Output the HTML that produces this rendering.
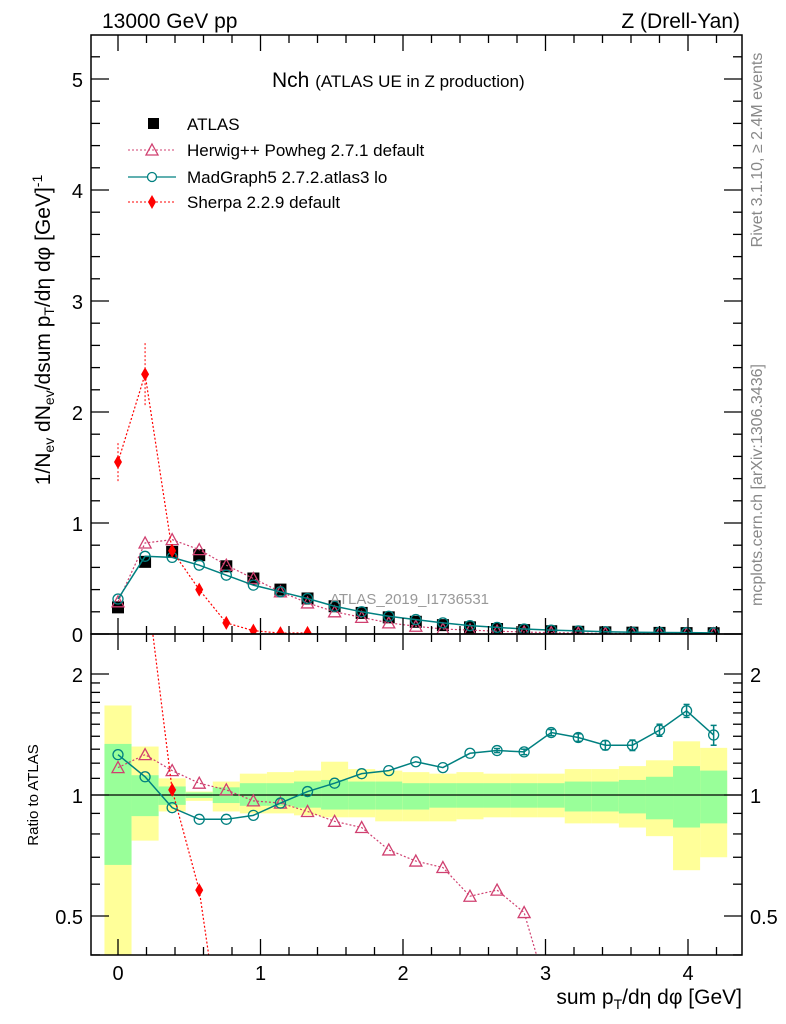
<!DOCTYPE html>
<html><head><meta charset="utf-8"><style>
html,body{margin:0;padding:0;background:#fff;width:786px;height:1024px;overflow:hidden}
svg{display:block;font-family:"Liberation Sans",sans-serif}
</style></head><body>
<svg id="c" width="786" height="1024" viewBox="0 0 786 1024" xmlns="http://www.w3.org/2000/svg">
<g id="bands"></g>
<g id="marks"></g>
<g id="axes"></g>
<text x="102" y="28" font-size="21">13000 GeV pp</text>
<text x="740" y="28" font-size="21" text-anchor="end">Z (Drell-Yan)</text>
<text x="272" y="87" font-size="21">Nch <tspan font-size="17">(ATLAS UE in Z production)</tspan></text>
<g font-size="17">
<rect x="148" y="118" width="11" height="11" fill="#000"/>
<text x="187" y="130">ATLAS</text>
<line x1="128" y1="150" x2="176" y2="150" stroke="#d04070" stroke-dasharray="2,2"/>
<path d="M152,144 L158,155 L146,155 Z" fill="none" stroke="#d04070" stroke-width="1.3"/>
<text x="187" y="156">Herwig++ Powheg 2.7.1 default</text>
<line x1="128" y1="177" x2="176" y2="177" stroke="#008080" stroke-width="1.3"/>
<circle cx="152" cy="177" r="4.5" fill="#fff" stroke="#008080" stroke-width="1.3"/>
<text x="187" y="183">MadGraph5 2.7.2.atlas3 lo</text>
<line x1="128" y1="202" x2="176" y2="202" stroke="#f00" stroke-dasharray="2,2"/>
<path d="M152,195 L156,202 L152,209 L148,202 Z" fill="#f00"/>
<text x="187" y="208">Sherpa 2.2.9 default</text>
</g>
<text x="330" y="604" font-size="15" fill="#999">ATLAS_2019_I1736531</text>
<text transform="translate(50,330) rotate(-90)" font-size="21" text-anchor="middle">1/N<tspan font-size="14" dy="4">ev</tspan><tspan dy="-4"> dN</tspan><tspan font-size="14" dy="4">ev</tspan><tspan dy="-4">/dsum p</tspan><tspan font-size="14" dy="4">T</tspan><tspan dy="-4">/dη dφ  [GeV]</tspan><tspan font-size="14" dy="-8">-1</tspan></text>
<text transform="translate(38,795) rotate(-90)" font-size="15" text-anchor="middle">Ratio to ATLAS</text>
<text x="742" y="1004" font-size="21" text-anchor="end">sum p<tspan font-size="14" dy="5">T</tspan><tspan dy="-5">/dη dφ [GeV]</tspan></text>
<text transform="translate(762,150) rotate(-90)" font-size="16" fill="#888" text-anchor="middle">Rivet 3.1.10, ≥ 2.4M events</text>
<text transform="translate(762,485) rotate(-90)" font-size="16" fill="#888" text-anchor="middle">mcplots.cern.ch [arXiv:1306.3436]</text>
</svg>
<script>
const xs = [0,0.19,0.38,0.57,0.76,0.95,1.14,1.33,1.52,1.71,1.9,2.09,2.28,2.47,2.66,2.85,3.04,3.23,3.42,3.61,3.8,3.99,4.18];
const atlas = [0.24,0.65,0.74,0.71,0.61,0.50,0.40,0.32,0.25,0.19,0.15,0.11,0.08,0.06,0.045,0.035,0.025,0.02,0.015,0.012,0.01,0.008,0.007];
const herwig = [0.29,0.82,0.85,0.76,0.62,0.50,0.38,0.28,0.20,0.15,0.10,0.07,0.045,0.035,0.025,0.018,0.012,0.008,0.005,0.004,0.003,0.002,0.002];
const madgraph = [0.315,0.70,0.69,0.62,0.53,0.44,0.38,0.32,0.25,0.20,0.16,0.13,0.10,0.075,0.06,0.045,0.035,0.028,0.02,0.016,0.014,0.012,0.01];
const sherpa = [1.55,2.34,0.75,0.40,0.10,0.03,0.008,0.01];
const herwigRatio = [1.17,1.26,1.15,1.07,1.03,0.967,0.955,0.91,0.86,0.83,0.73,0.685,0.66,0.56,0.58,0.51,0.3];
const madgraphRatio = [1.26,1.11,0.93,0.87,0.87,0.89,0.955,1.02,1.07,1.13,1.15,1.21,1.17,1.27,1.29,1.28,1.43,1.39,1.33,1.33,1.45,1.62,1.41];
const madgraphRatioErr = [0.01,0.01,0.01,0.01,0.01,0.01,0.01,0.01,0.01,0.01,0.01,0.01,0.01,0.01,0.015,0.02,0.025,0.03,0.035,0.04,0.05,0.06,0.08];
const sherpaRatio = [6.4,3.6,1.03,0.58,0.2];
const yellowHi = [1.67,1.32,1.10,1.02,1.08,1.13,1.14,1.15,1.21,1.16,1.15,1.14,1.13,1.14,1.13,1.13,1.13,1.16,1.16,1.18,1.22,1.36,1.31];
const yellowLo = [0.3,0.77,0.91,0.967,0.91,0.90,0.90,0.89,0.88,0.88,0.86,0.86,0.86,0.87,0.88,0.88,0.88,0.85,0.85,0.83,0.79,0.65,0.70];
const greenHi = [1.34,1.12,1.05,1.015,1.045,1.07,1.07,1.08,1.09,1.08,1.08,1.07,1.07,1.07,1.07,1.07,1.07,1.08,1.08,1.09,1.11,1.18,1.15];
const greenLo = [0.67,0.886,0.945,0.983,0.955,0.94,0.94,0.93,0.92,0.92,0.92,0.92,0.93,0.93,0.93,0.93,0.93,0.91,0.91,0.90,0.87,0.83,0.85];
const yTicks = [0,1,2,3,4,5];
const xTicks = [0,1,2,3,4];
const rTicks = [0.5,1,2];

const NS="http://www.w3.org/2000/svg";
const L=91,R=742,T=35,MB=634,RB=955;
const X=v=>118+v*142.5;
const Y=v=>MB-v*111;
const RY=v=>795-Math.log2(v)*121;
function mk(p,tag,a){const e=document.createElementNS(NS,tag);for(const k in a)e.setAttribute(k,a[k]);p.appendChild(e);return e;}
const svg=document.getElementById('c');
const bands=document.getElementById('bands'),marks=document.getElementById('marks'),axes=document.getElementById('axes');
const defs=mk(svg,'defs',{});
const c1=mk(defs,'clipPath',{id:'cm'});mk(c1,'rect',{x:L,y:T,width:R-L,height:MB-T});
const c2=mk(defs,'clipPath',{id:'cr'});mk(c2,'rect',{x:L,y:MB,width:R-L,height:RB-MB});
bands.setAttribute('clip-path','url(#cr)');
const hw=0.095;
xs.forEach((x,i)=>{
  const y1=mk(bands,'rect',{x:X(x-hw),y:RY(yellowHi[i]),width:X(x+hw)-X(x-hw),height:RY(yellowLo[i])-RY(yellowHi[i]),fill:'#ffff99'});
  
  
  const g1=mk(bands,'rect',{x:X(x-hw),y:RY(greenHi[i]),width:X(x+hw)-X(x-hw),height:RY(greenLo[i])-RY(greenHi[i]),fill:'#99ff99'});
  
  
});
mk(bands,'line',{x1:L,y1:RY(1),x2:R,y2:RY(1),stroke:'#000','stroke-width':1.3});
const gm=mk(marks,'g',{'clip-path':'url(#cm)'});
const gr=mk(marks,'g',{'clip-path':'url(#cr)'});
function tri(g,x,y,nm){const p=mk(g,'path',{d:`M${x},${y-6} L${x+6},${y+5} L${x-6},${y+5} Z`,fill:'none',stroke:'#d04070','stroke-width':1.3});}
function circ(g,x,y,nm){const c=mk(g,'circle',{cx:x,cy:y,r:5,fill:'none',stroke:'#008080','stroke-width':1.3});}
function dia(g,x,y,nm){const p=mk(g,'path',{d:`M${x},${y-7} L${x+4},${y} L${x},${y+7} L${x-4},${y} Z`,fill:'#f00'});}
function line(g,vals,yf,col,dash,w){const pts=vals.map((v,i)=>X(xs[i])+','+yf(v)).join(' ');const a={points:pts,fill:'none',stroke:col,'stroke-width':w};if(dash)a['stroke-dasharray']=dash;return mk(g,'polyline',a);}
atlas.forEach((v,i)=>{const r=mk(gm,'rect',{x:X(xs[i])-6,y:Y(v)-6,width:12,height:12,fill:'#000'});});
line(gm,herwig,Y,'#d04070','2,2',1.2);
herwig.forEach((v,i)=>tri(gm,X(xs[i]),Y(v),'herwig-point'));
line(gm,madgraph,Y,'#008080',null,1.5);
madgraph.forEach((v,i)=>circ(gm,X(xs[i]),Y(v),'madgraph-point'));
line(gm,sherpa,Y,'#f00','2,2',1.2);
sherpa.forEach((v,i)=>dia(gm,X(xs[i]),Y(v),'sherpa-point'));
mk(gm,'line',{x1:X(xs[0]),y1:Y(1.72),x2:X(xs[0]),y2:Y(1.36),stroke:'#f00','stroke-dasharray':'2,2'});
mk(gm,'line',{x1:X(xs[1]),y1:Y(2.62),x2:X(xs[1]),y2:Y(2.05),stroke:'#f00','stroke-dasharray':'2,2'});
line(gr,herwigRatio,RY,'#d04070','2,2',1.2);
herwigRatio.forEach((v,i)=>tri(gr,X(xs[i]),RY(v),'herwig-ratio-point'));
line(gr,madgraphRatio,RY,'#008080',null,1.5);
madgraphRatio.forEach((v,i)=>{const x=X(xs[i]),e=madgraphRatioErr[i];
  if(e>0.012){mk(gr,'line',{x1:x,y1:RY(v+e),x2:x,y2:RY(v-e),stroke:'#008080','stroke-width':1.5});
    mk(gr,'line',{x1:x-3,y1:RY(v+e),x2:x+3,y2:RY(v+e),stroke:'#008080','stroke-width':1.5});
    mk(gr,'line',{x1:x-3,y1:RY(v-e),x2:x+3,y2:RY(v-e),stroke:'#008080','stroke-width':1.5});}
  circ(gr,x,RY(v),'madgraph-ratio-point');});
line(gr,sherpaRatio,RY,'#f00','2,2',1.2);
sherpaRatio.forEach((v,i)=>dia(gr,X(xs[i]),RY(v),'sherpa-ratio-point'));
mk(axes,'rect',{x:L,y:T,width:R-L,height:MB-T,fill:'none',stroke:'#000','stroke-width':1.5});
mk(axes,'rect',{x:L,y:MB,width:R-L,height:RB-MB,fill:'none',stroke:'#000','stroke-width':1.5});
const tk=(a)=>mk(axes,'line',Object.assign({stroke:'#000','stroke-width':1.3},a));
for(let v=0;v<=5.4;v+=0.2){const y=Y(v);if(y<T)break;const maj=Math.abs(v-Math.round(v))<0.01;const l=maj?18:9;tk({x1:L,y1:y,x2:L+l,y2:y});tk({x1:R,y1:y,x2:R-l,y2:y});}
yTicks.forEach(v=>{const t=mk(axes,'text',{x:L-8,y:Y(v)+8,'font-size':20,'text-anchor':'end'});t.textContent=v;});
for(let k=-1;k<=22;k++){const v=k*0.2;const x=X(v);if(x<L||x>R)continue;const maj=k%5==0;const l=maj?16:8;
 tk({x1:x,y1:MB,x2:x,y2:MB-l});tk({x1:x,y1:T,x2:x,y2:T+l});tk({x1:x,y1:RB,x2:x,y2:RB-l});tk({x1:x,y1:MB,x2:x,y2:MB+l});}
xTicks.forEach(v=>{const t=mk(axes,'text',{x:X(v),y:RB+25,'font-size':20,'text-anchor':'middle'});t.textContent=v;});
[0.4,0.5,0.6,0.7,0.8,0.9,1,2].forEach(v=>{const y=RY(v);const maj=(v==0.5||v==1||v==2);const l=maj?18:9;tk({x1:L,y1:y,x2:L+l,y2:y});tk({x1:R,y1:y,x2:R-l,y2:y});});
[1.1,1.2,1.3,1.4,1.5,1.6,1.7,1.8,1.9].forEach(v=>{const y=RY(v);tk({x1:L,y1:y,x2:L+9,y2:y});tk({x1:R,y1:y,x2:R-9,y2:y});});
rTicks.forEach(v=>{const a=mk(axes,'text',{x:L-8,y:RY(v)+8,'font-size':20,'text-anchor':'end'});a.textContent=v;
 const b=mk(axes,'text',{x:R+8,y:RY(v)+8,'font-size':20});b.textContent=v;});
</script>
</body></html>
